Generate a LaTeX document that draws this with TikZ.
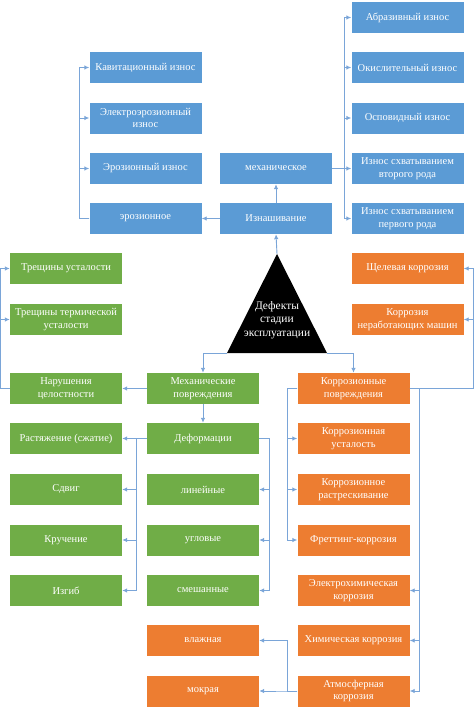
\documentclass[tikz,border=0pt]{standalone}
\usepackage{fontspec}
\setmainfont{Liberation Serif}
\usetikzlibrary{arrows.meta}
\definecolor{blu}{HTML}{5B9BD5}
\definecolor{grn}{HTML}{70AD47}
\definecolor{org}{HTML}{ED7D31}
\definecolor{lin}{HTML}{7AA5D8}
\begin{document}
\begin{tikzpicture}[x=1pt, y=-1pt, >={Latex[length=5pt,width=4.5pt]},
  every node/.style={font=\fontsize{10.5}{12.5}\selectfont},
  box/.style={minimum width=112pt, minimum height=31pt, inner sep=1pt, text=white, align=center},
  bbox/.style={box, fill=blu}, gbox/.style={box, fill=grn}, obox/.style={box, fill=org},
  conn/.style={draw=lin, line width=0.9pt}]
  \useasboundingbox (0,0) rectangle (474,712);
  % Изнашивание (синие)
  \node[bbox] (kav) at (145.5,67.5) {Кавитационный износ};
  \node[bbox] (eler) at (145.5,118) {Электроэрозионный\\износ};
  \node[bbox] (eroz) at (145.5,168.5) {Эрозионный износ};
  \node[bbox] (ero) at (145.5,218.5) {эрозионное};
  \node[bbox] (mex) at (276,168.5) {механическое};
  \node[bbox] (izn) at (276,218.5) {Изнашивание};
  \node[bbox] (abr) at (407.5,17.5) {Абразивный износ};
  \node[bbox] (oki) at (407.5,67.5) {Окислительный износ};
  \node[bbox] (osp) at (407.5,118) {Осповидный износ};
  \node[bbox] (sx2) at (407.5,168.5) {Износ схватыванием\\второго рода};
  \node[bbox] (sx1) at (407.5,218.5) {Износ схватыванием\\первого рода};
  % Треугольник
  \coordinate (tA) at (277,254);
  \coordinate (tL) at (227,353);
  \coordinate (tR) at (327,353);
  \fill[black] (tA) -- (tL) -- (tR) -- cycle;
  \node[text=white, align=center, font=\fontsize{11.5}{13.5}\selectfont] (def) at (277,320) {Дефекты\\стадии\\эксплуатации};
  % Механические повреждения (зелёные)
  \node[gbox] (tr1) at (66,268.5) {Трещины усталости};
  \node[gbox] (tr2) at (66,319.5) {Трещины термической\\усталости};
  \node[gbox] (nar) at (66,388.5) {Нарушения\\целостности};
  \node[gbox] (ras) at (66,438.5) {Растяжение (сжатие)};
  \node[gbox] (sdv) at (66,489.5) {Сдвиг};
  \node[gbox] (kru) at (66,540) {Кручение};
  \node[gbox] (izg) at (66,590.5) {Изгиб};
  \node[gbox] (mp) at (203,388.5) {Механические\\повреждения};
  \node[gbox] (dfm) at (203,438.5) {Деформации};
  \node[gbox] (lnn) at (203,489.5) {линейные};
  \node[gbox] (ugl) at (203,540) {угловые};
  \node[gbox] (sms) at (203,590.5) {смешанные};
  % Коррозионные повреждения (оранжевые)
  \node[obox] (shl) at (407.5,268.5) {Щелевая коррозия};
  \node[obox] (nrb) at (407.5,319.5) {Коррозия\\неработающих машин};
  \node[obox] (kp) at (353.5,388.5) {Коррозионные\\повреждения};
  \node[obox] (kus) at (353.5,438.5) {Коррозионная\\усталость};
  \node[obox] (krs) at (353.5,489.5) {Коррозионное\\растрескивание};
  \node[obox] (frt) at (353.5,540) {Фреттинг-коррозия};
  \node[obox] (elx) at (353.5,590.5) {Электрохимическая\\коррозия};
  \node[obox] (xim) at (353.5,640.5) {Химическая коррозия};
  \node[obox] (atm) at (353.5,691) {Атмосферная\\коррозия};
  \node[obox] (vlz) at (203,640.5) {влажная};
  \node[obox] (mok) at (203,691) {мокрая};
  % Связи вверху
  \draw[conn,->] (tA) -- (izn.south);
  \draw[conn,->] (izn.west) -- (ero.east);
  \draw[conn,->] (izn.north) -- (mex.south);
  \foreach \t in {kav,eler,eroz}
    \draw[conn,->] (ero.west) -- ++(-10,0) |- (\t.west);
  \foreach \t in {abr,oki,osp,sx2,sx1}
    \draw[conn,->] (mex.east) -- ++(12,0) |- (\t.west);
  % Связи от треугольника
  \draw[conn,->] (tL) -| (mp.north);
  \draw[conn,->] (tR) -| (kp.north);
  \draw[conn,->] (mp.west) -- (nar.east);
  \draw[conn,->] (mp.south) -- (dfm.north);
  \foreach \t in {tr1,tr2}
    \draw[conn,->] (nar.west) -- ++(-9,0) |- (\t.west);
  \foreach \t in {ras,sdv,kru,izg}
    \draw[conn,->] (dfm.west) -- ++(-10,0) |- (\t.east);
  \foreach \t in {lnn,ugl,sms}
    \draw[conn,->] (dfm.east) -- ++(10,0) |- (\t.east);
  % Связи коррозии
  \foreach \t in {shl,nrb}
    \draw[conn,->] (kp.east) -- ++(63.5,0) |- (\t.east);
  \foreach \t in {elx,xim,atm}
    \draw[conn,->] (kp.east) -- ++(10,0) |- (\t.east);
  \foreach \t in {kus,krs,frt}
    \draw[conn,->] (kp.west) -- ++(-10,0) |- (\t.west);
  \foreach \t in {vlz,mok}
    \draw[conn,->] (atm.west) -- ++(-10,0) |- (\t.east);
\end{tikzpicture}
\end{document}
